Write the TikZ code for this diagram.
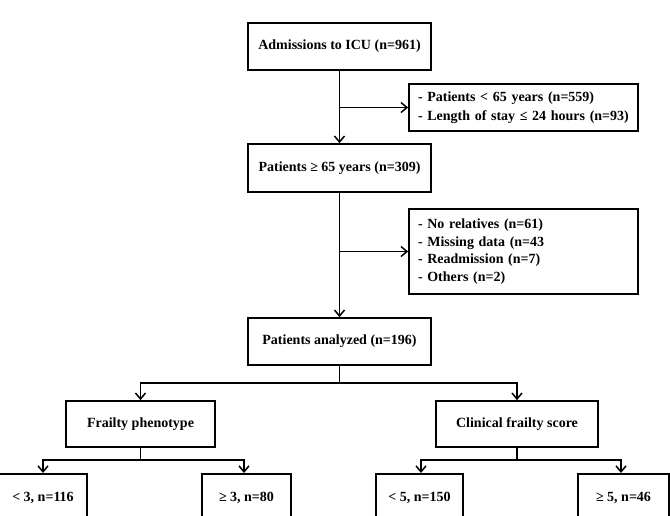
\documentclass[tikz,border=0pt]{standalone}
\usepackage{fontspec}
\setmainfont{Liberation Serif}
\usetikzlibrary{arrows.meta}
\begin{document}
\begin{tikzpicture}[x=1pt,y=-1pt,
  box/.style={draw,line width=1.7pt,rectangle,inner sep=0pt,font=\bfseries\fontsize{14}{19}\selectfont,align=center},
  listbox/.style={box,align=left,inner xsep=9pt,inner ysep=0pt},
  conn/.style={line width=1.7pt},
  arr/.style={conn,-{Straight Barb[length=6pt,width=10pt,line width=1.5pt]}}]
\useasboundingbox (0,0) rectangle (670,515);
\clip (0,0) rectangle (670,515);
\node[box,minimum width=183pt,minimum height=47pt] (adm) at (339.5,46.5) {Admissions to ICU (n=961)};
\node[listbox,minimum width=229pt,minimum height=47pt,text width=211pt] (ex1) at (523.5,107.5) {- Patients < 65 years (n=559)\\- Length of stay ≤ 24 hours (n=93)};
\node[box,minimum width=183pt,minimum height=48pt] (p65) at (339.5,168) {Patients ≥ 65 years (n=309)};
\node[listbox,minimum width=229pt,minimum height=85pt,text width=211pt,font=\bfseries\fontsize{14}{17.5}\selectfont] (ex2) at (523.5,251.5) {- No relatives (n=61)\\- Missing data (n=43\\- Readmission (n=7)\\- Others (n=2)};
\node[box,minimum width=183pt,minimum height=47pt] (ana) at (339.5,341.5) {Patients analyzed (n=196)};
\node[box,minimum width=149pt,minimum height=46pt] (fp) at (140.5,424) {Frailty phenotype};
\node[box,minimum width=162pt,minimum height=46pt] (cfs) at (517,424) {Clinical frailty score};
\node[box,anchor=north,minimum width=88pt,minimum height=48pt] (f1) at (43,473) {< 3, n=116};
\node[box,anchor=north,minimum width=89pt,minimum height=48pt] (f2) at (246.5,473) {≥ 3, n=80};
\node[box,anchor=north,minimum width=87pt,minimum height=48pt] (c1) at (419.5,473) {< 5, n=150};
\node[box,anchor=north,minimum width=91pt,minimum height=48pt] (c2) at (623.5,473) {≥ 5, n=46};
\coordinate (j1) at (339.5,107.5);
\coordinate (j2) at (339.5,251.5);
\coordinate (j3) at (339.5,383);
\coordinate (j4) at (140.5,460);
\coordinate (j5) at (517,460);
\draw[arr] (adm.south) -- (p65.north);
\draw[arr] (j1) -- (ex1.west);
\draw[arr] (p65.south) -- (ana.north);
\draw[arr] (j2) -- (ex2.west);
\draw[conn] (ana.south) -- (j3);
\draw[arr] (j3) -| (fp.north);
\draw[arr] (j3) -| (cfs.north);
\draw[conn] (fp.south) -- (j4);
\draw[arr] (j4) -| (f1.north);
\draw[arr] (j4) -| ([xshift=-2.5pt]f2.north);
\draw[conn] (cfs.south) -- (j5);
\draw[arr] (j5) -| ([xshift=1.5pt]c1.north);
\draw[arr] (j5) -| ([xshift=-2.5pt]c2.north);
\end{tikzpicture}
\end{document}
